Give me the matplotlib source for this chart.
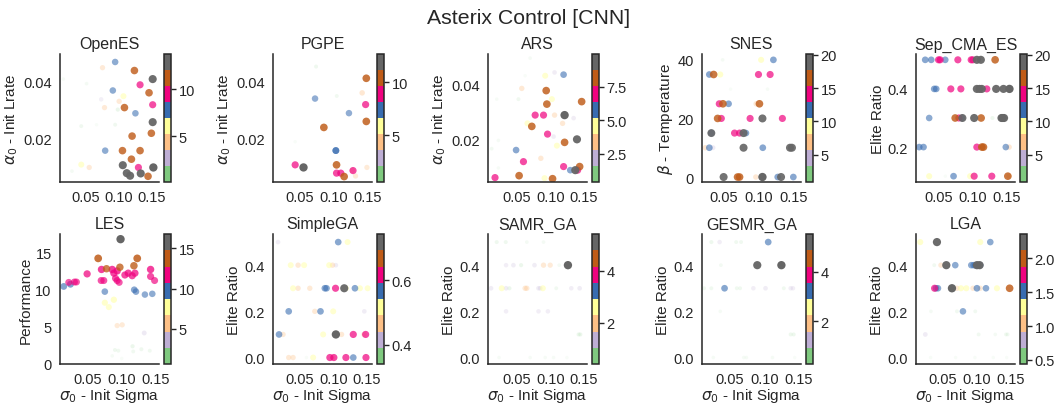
import numpy as np
import matplotlib
matplotlib.use("Agg")
import matplotlib.pyplot as plt
from matplotlib.colors import Normalize
from matplotlib.cm import ScalarMappable

plt.rcParams['font.family'] = ['Liberation Sans', 'DejaVu Sans']
plt.rcParams['text.color'] = '#262626'
plt.rcParams['axes.labelcolor'] = '#262626'
plt.rcParams['xtick.color'] = '#262626'
plt.rcParams['ytick.color'] = '#262626'
plt.rcParams['axes.edgecolor'] = '#262626'

# ---------------- data ----------------
openes_sigma = [0.095, 0.124, 0.1515, 0.1325, 0.0915, 0.146, 0.1075, 0.1515, 0.109, 0.1255,
                0.1515, 0.1495, 0.1205, 0.080, 0.106, 0.1325, 0.1195, 0.1065, 0.1525, 0.130,
                0.1125, 0.1175, 0.1335, 0.1445, 0.044, 0.056, 0.076, 0.101, 0.079,
                0.074, 0.099, 0.095, 0.044, 0.030, 0.017, 0.052, 0.067]
openes_lrate = [0.047, 0.044, 0.041, 0.039, 0.037, 0.0362, 0.035, 0.032, 0.031, 0.029,
                0.0259, 0.022, 0.021, 0.0159, 0.0159, 0.0159, 0.0129, 0.0108, 0.010, 0.010,
                0.008, 0.0071, 0.0079, 0.0069, 0.011, 0.010, 0.045, 0.0332, 0.031,
                0.0339, 0.0303, 0.025, 0.0245, 0.0087, 0.041, 0.0394, 0.025]
openes_perf = [7.5, 11.0, 13.0, 9.5, 7.5, 11.0, 6.0, 9.5, 11.0, 7.5,
               13.0, 11.0, 11.0, 7.5, 11.0, 11.0, 11.0, 13.0, 13.8, 9.5,
               13.0, 13.0, 13.0, 11.0, 6.0, 4.0, 4.0, 4.0, 4.0,
               2.0, 1.5, 1.0, 1.0, 0.5, 0.3, 0.5, 0.07]

pgpe_sigma = [0.1476, 0.1415, 0.072, 0.1466, 0.122, 0.1476, 0.085, 0.1027, 0.1027, 0.0427,
              0.055, 0.1037, 0.1037, 0.110, 0.1149, 0.128, 0.127, 0.1317, 0.1485,
              0.0735, 0.104, 0.0427]
pgpe_lrate = [0.0412, 0.0361, 0.0341, 0.032, 0.029, 0.0261, 0.024, 0.0159, 0.0159, 0.0109,
              0.010, 0.0109, 0.008, 0.008, 0.0068, 0.0089, 0.0089, 0.007, 0.010,
              0.0453, 0.035, 0.019]
pgpe_perf = [10.5, 4.5, 7.0, 9.0, 7.0, 10.5, 10.5, 8.0, 8.0, 9.0,
             12.66, 10.5, 9.0, 9.0, 10.5, 9.0, 4.5, 4.0, 4.0,
             1.5, 1.3, 0.6]

ars_sigma = [0.120, 0.1065, 0.0925, 0.0575, 0.094, 0.1025, 0.147, 0.095, 0.0525, 0.0775,
             0.090, 0.1065, 0.1215, 0.066, 0.0725, 0.1185, 0.135, 0.096, 0.140, 0.1215,
             0.110, 0.105, 0.049, 0.086, 0.060, 0.120, 0.130, 0.1375, 0.144, 0.141,
             0.0175, 0.0535, 0.1035, 0.0915, 0.0125, 0.0225, 0.0225, 0.020, 0.070, 0.0625]
ars_lrate = [0.0434, 0.0442, 0.043, 0.0384, 0.0376, 0.0345, 0.0336, 0.0327, 0.0345, 0.0287,
             0.0287, 0.0287, 0.0287, 0.0257, 0.0246, 0.0257, 0.0276, 0.0218, 0.0199, 0.0188,
             0.0176, 0.0209, 0.016, 0.013, 0.0118, 0.010, 0.0087, 0.0087, 0.010, 0.0087,
             0.006, 0.0067, 0.0056, 0.0058, 0.0165, 0.0195, 0.0095, 0.0345, 0.0494, 0.043]
ars_perf = [5.8, 2.0, 4.5, 3.3, 8.2, 4.5, 8.2, 8.2, 1.0, 7.0,
            7.0, 3.3, 9.97, 4.5, 8.2, 3.3, 2.0, 7.0, 9.5, 8.2,
            4.5, 2.0, 5.8, 3.3, 7.0, 7.0, 5.8, 9.5, 8.2, 7.0,
            7.0, 8.2, 8.2, 4.5, 0.8, 0.6, 0.5, 0.5, 0.6, 0.37]

snes_sigma = [0.1038, 0.1214, 0.0295, 0.0357, 0.0452, 0.100, 0.1167, 0.0438, 0.049, 0.0571,
              0.0967, 0.1014, 0.0414, 0.0467, 0.088, 0.1057, 0.1343, 0.0324, 0.0324, 0.0657,
              0.0729, 0.0786, 0.082, 0.0238, 0.0295, 0.0348, 0.0786, 0.1062, 0.1452, 0.148,
              0.050, 0.070, 0.0729, 0.0962, 0.1057, 0.1276, 0.1324, 0.150,
              0.0486, 0.113, 0.060]
snes_temp = [40, 40, 35, 35, 35, 35, 35, 25, 25, 25,
             25, 25, 20, 20, 20, 20, 20, 15, 15, 15,
             15, 15, 15, 10, 10, 10, 10, 10, 10, 10,
             0, 0, 0, 0, 0, 0, 0, 0,
             40, 30, 30]
snes_perf = [9.5, 12.0, 12.0, 16.5, 9.5, 14.0, 14.0, 14.0, 16.5, 12.0,
             7.0, 16.5, 16.5, 14.0, 14.0, 18.5, 14.0, 12.5, 18.0, 14.0,
             14.0, 18.5, 12.0, 7.0, 12.0, 5.0, 18.5, 12.0, 18.5, 18.5,
             18.5, 16.5, 16.5, 7.0, 20.15, 12.0, 18.5, 12.0,
             1.5, 1.2, 0.9]

sep_sigma = [0.0305, 0.0393, 0.050, 0.0524, 0.0598, 0.0783, 0.0978, 0.1002, 0.1061, 0.112, 0.1329,
             0.0437, 0.0466, 0.068, 0.0827, 0.1061, 0.110, 0.1134, 0.1207, 0.1344, 0.1451, 0.1539,
             0.0363, 0.0744, 0.0798, 0.0841, 0.085, 0.1022, 0.1124, 0.129, 0.1422, 0.146, 0.144,
             0.0217, 0.028, 0.1061, 0.1134, 0.1158, 0.1485, 0.1534,
             0.0363, 0.072, 0.0963, 0.1022, 0.128, 0.1515, 0.1534, 0.060]
sep_elite = [0.5] * 11 + [0.4] * 11 + [0.3] * 11 + [0.2] * 7 + [0.1] * 8
sep_perf = [12, 12, 14, 14, 12, 14, 14, 14, 19, 19, 16.5,
            12, 12, 14, 14, 19, 19, 19, 14, 19, 19, 20.15,
            11.5, 16.5, 14, 12, 18.5, 19, 16.5, 2.5, 19, 19, 19,
            12, 12, 14, 16.5, 16.5, 11.5, 7,
            9.5, 12, 9.5, 14, 14, 16.5, 7, 0.9]

les_sigma = [0.0983, 0.0653, 0.1229, 0.0702, 0.0776, 0.086, 0.0973, 0.118, 0.1426, 0.0933,
             0.0145, 0.0219, 0.0244, 0.0303, 0.0332, 0.049, 0.0697, 0.0736, 0.0884, 0.0909,
             0.0933, 0.0963, 0.1047, 0.1096, 0.1155, 0.1195, 0.1426, 0.1485,
             0.0751, 0.1185, 0.121, 0.1342, 0.1451, 0.0751, 0.0884, 0.081,
             0.0933, 0.1007, 0.1332, 0.090, 0.095, 0.116, 0.117, 0.129, 0.1414, 0.086, 0.100]
les_perf = [16.8, 14.2, 14.2, 12.7, 12.8, 12.7, 13.0, 13.2, 12.7, 12.5,
            10.4, 10.95, 10.7, 11.0, 11.0, 12.1, 11.2, 11.2, 12.2, 11.5,
            11.2, 10.95, 11.95, 12.2, 11.85, 12.2, 11.75, 11.2,
            9.7, 9.95, 9.7, 9.3, 9.4, 8.2, 8.6, 7.6,
            5.1, 5.2, 4.1, 1.8, 1.7, 2.3, 1.6, 1.9, 1.7, 1.0, 0.65]

sga_sigma = [0.0175, 0.1075, 0.1215,
             0.0365, 0.0475, 0.0565, 0.094, 0.099, 0.104,
             0.040, 0.0475, 0.065, 0.0875, 0.090, 0.1035, 0.1165, 0.119, 0.1325, 0.140, 0.1515,
             0.0335, 0.0725, 0.081, 0.100, 0.1465,
             0.019, 0.025, 0.085, 0.104, 0.1125, 0.130, 0.146, 0.1485,
             0.0335, 0.040, 0.070, 0.095, 0.099, 0.101, 0.119, 0.130, 0.149, 0.060]
sga_elite = [0.5] * 3 + [0.4] * 6 + [0.3] * 11 + [0.2] * 5 + [0.1] * 8 + [0.0] * 10
sga_perf = [0.41, 0.57, 0.51,
            0.51, 0.46, 0.51, 0.51, 0.46, 0.41,
            0.51, 0.46, 0.46, 0.57, 0.57, 0.62, 0.72, 0.51, 0.57, 0.51, 0.51,
            0.57, 0.46, 0.57, 0.51, 0.41,
            0.57, 0.46, 0.51, 0.744, 0.46, 0.62, 0.46, 0.62,
            0.46, 0.46, 0.51, 0.62, 0.46, 0.62, 0.62, 0.57, 0.62, 0.34]

samr_sigma = [0.020, 0.0335, 0.065, 0.090,
              0.034, 0.045, 0.0565, 0.0765, 0.090, 0.100, 0.1135, 0.1265,
              0.0115, 0.0275, 0.034, 0.039, 0.0625, 0.065, 0.0825, 0.085, 0.089, 0.109, 0.1315, 0.144,
              0.034, 0.0825, 0.0965,
              0.1425, 0.145,
              0.0235, 0.070, 0.0925, 0.105, 0.125]
samr_elite = [0.5] * 4 + [0.4] * 8 + [0.3] * 12 + [0.2] * 3 + [0.1] * 2 + [0.0] * 5
samr_perf = [0.8, 0.8, 0.6, 0.6,
             1.2, 1.3, 0.9, 1.3, 1.9, 1.8, 0.6, 5.41,
             1.3, 2.5, 1.3, 0.9, 1.9, 1.9, 1.3, 1.3, 2.5, 0.7, 1.2, 1.3,
             1.2, 1.2, 1.2,
             0.9, 0.9,
             0.5, 0.5, 0.5, 0.5, 0.42]

gesmr_sigma = [0.1053, 0.0226, 0.0346, 0.0587, 0.0659,
               0.0894, 0.1245, 0.0365,
               0.0418, 0.0120, 0.0226, 0.0596, 0.0644, 0.0837, 0.1014, 0.128, 0.138, 0.1413,
               0.0356,
               0.138, 0.1423,
               0.0255, 0.0697, 0.0736, 0.1115, 0.1438]
gesmr_elite = [0.5] * 5 + [0.4] * 3 + [0.3] * 10 + [0.2] * 1 + [0.1] * 2 + [0.0] * 5
gesmr_perf = [3.3, 0.7, 1.1, 0.6, 0.6,
              5.3, 5.51, 0.5,
              3.3, 0.6, 0.6, 0.6, 0.6, 1.1, 1.2, 0.6, 1.1, 1.1,
              0.4,
              0.7, 0.7,
              0.4, 0.4, 0.4, 0.4, 0.28]

lga_sigma = [0.0163, 0.0411, 0.1054, 0.1203,
             0.0371, 0.047, 0.055, 0.0683, 0.0921, 0.0955, 0.098, 0.1005, 0.1044, 0.1054,
             0.0376, 0.0396, 0.0426, 0.0634, 0.0708, 0.0767, 0.0847, 0.0946, 0.1005, 0.1054,
             0.1139, 0.1302, 0.149,
             0.0322, 0.0708, 0.0797, 0.098,
             0.0238, 0.103, 0.1277, 0.1436, 0.146,
             0.0317, 0.0688, 0.0975, 0.1248, 0.1446]
lga_elite = [0.5] * 4 + [0.4] * 10 + [0.3] * 13 + [0.2] * 4 + [0.1] * 5 + [0.0] * 5
lga_perf = [1.3, 2.3, 1.3, 1.5,
            0.55, 1.0, 2.3, 1.5, 1.5, 1.5, 1.5, 2.3, 2.3, 1.5,
            1.75, 1.5, 1.5, 2.36, 1.0, 1.3, 1.3, 1.0, 1.55, 1.0,
            1.5, 1.3, 2.0,
            0.5, 0.55, 1.5, 0.55,
            0.8, 0.55, 0.5, 0.55, 0.55,
            0.45, 0.45, 0.45, 0.45, 0.44]

titles = ["OpenES", "PGPE", "ARS", "SNES", "Sep_CMA_ES",
          "LES", "SimpleGA", "SAMR_GA", "GESMR_GA", "LGA"]
ylabels = [r"$\alpha_0$ - Init Lrate", r"$\alpha_0$ - Init Lrate", r"$\alpha_0$ - Init Lrate",
           r"$\beta$ - Temperature", "Elite Ratio",
           "Performance", "Elite Ratio", "Elite Ratio", "Elite Ratio", "Elite Ratio"]
xlabel = r"$\sigma_0$ - Init Sigma"
suptitle = "Asterix Control [CNN]"

panels = [
    (openes_sigma, openes_lrate, openes_perf),
    (pgpe_sigma, pgpe_lrate, pgpe_perf),
    (ars_sigma, ars_lrate, ars_perf),
    (snes_sigma, snes_temp, snes_perf),
    (sep_sigma, sep_elite, sep_perf),
    (les_sigma, les_perf, les_perf),
    (sga_sigma, sga_elite, sga_perf),
    (samr_sigma, samr_elite, samr_perf),
    (gesmr_sigma, gesmr_elite, gesmr_perf),
    (lga_sigma, lga_elite, lga_perf),
]

# axis ranges (layout)
xlims = [(0.012, 0.161), (0.010, 0.156), (0.007, 0.155), (0.019, 0.161), (0.017, 0.162),
         (0.009, 0.155), (0.010, 0.158), (0.007, 0.155), (0.009, 0.153), (0.010, 0.157)]
ylims = [(0.0049, 0.0498), (0.0049, 0.0497), (0.0044, 0.0509), (-1.7, 42), (0.08, 0.52),
         (-0.1, 17.5), (-0.028, 0.535), (-0.028, 0.535), (-0.028, 0.535), (-0.028, 0.535)]

# ---------------- figure ----------------
W, H = 1058, 406
fig = plt.figure(figsize=(W / 100, H / 100), dpi=100)
cmap = plt.get_cmap("Accent")

col_left = [60, 273, 488, 702, 916]
cbar_left = [164, 377, 592, 806, 1020]
row_top = [55, 235]
row_bot = [183, 365]
ax_w = 99
cb_w = 7

for i, (xs, ys, ps) in enumerate(panels):
    r, c = divmod(i, 5)
    xs = np.asarray(xs, float)
    ys = np.asarray(ys, float)
    ps = np.asarray(ps, float)
    left = col_left[c] / W
    bottom = (H - row_bot[r]) / H
    height = (row_bot[r] - row_top[r]) / H
    ax = fig.add_axes([left, bottom, ax_w / W, height])
    cax = fig.add_axes([cbar_left[c] / W, bottom, cb_w / W, height])

    vmin, vmax = ps.min(), ps.max()
    norm = Normalize(vmin=vmin, vmax=vmax)
    frac = norm(ps)
    order = np.argsort(ps)
    rgba = cmap(frac)
    rgba[:, 3] = np.clip(0.05 + 0.95 * frac, 0.03, 1.0)
    sizes = 6 + 30 * frac
    ax.scatter(xs[order], ys[order], c=rgba[order], s=sizes[order], linewidths=0)

    ax.set_xlim(*xlims[i])
    ax.set_ylim(*ylims[i])
    ax.set_xticks([0.05, 0.10, 0.15])
    ax.set_xticklabels(["0.05", "0.10", "0.15"])
    ax.tick_params(length=0, labelsize=10.5)
    ax.tick_params(axis="x", pad=6)
    ax.tick_params(axis="y", pad=6)
    for s in ["top", "right"]:
        ax.spines[s].set_visible(False)
    for s in ["left", "bottom"]:
        ax.spines[s].set_linewidth(1.1)
    ax.set_title(titles[i], fontsize=11.5, pad=4)
    ax.set_ylabel(ylabels[i], fontsize=11, labelpad=2)
    if r == 1:
        ax.set_xlabel(xlabel, fontsize=11, labelpad=0)

    sm = ScalarMappable(norm=norm, cmap=cmap)
    cb = fig.colorbar(sm, cax=cax)
    cb.outline.set_linewidth(1.1)
    cb.ax.tick_params(length=3.5, width=1, labelsize=10.5, pad=2)

fig.text(0.5, 1 - 18 / H, suptitle, ha="center", va="center", fontsize=15.3)

fig.savefig("out.png", dpi=100)
